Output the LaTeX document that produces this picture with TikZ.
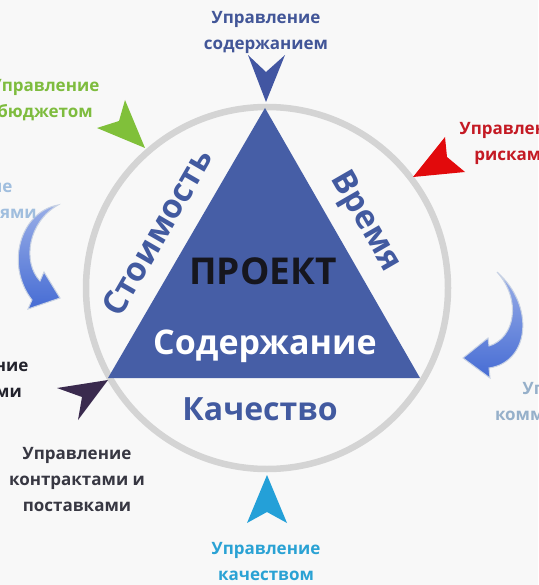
\documentclass[tikz,border=0pt]{standalone}
\usepackage{fontspec}
\setmainfont{Open Sans}

\definecolor{fondo}{RGB}{248,248,248}
\definecolor{anello}{RGB}{212,212,212}
\definecolor{triblu}{RGB}{70,94,166}
\definecolor{testoblu}{RGB}{66,90,160}
\definecolor{nerotesto}{RGB}{22,22,30}
\definecolor{cSod}{RGB}{66,86,152}
\definecolor{cBud}{RGB}{126,188,62}
\definecolor{cIzm}{RGB}{160,190,222}
\definecolor{cRes}{RGB}{35,35,45}
\definecolor{cKon}{RGB}{55,55,66}
\definecolor{cKach}{RGB}{42,162,212}
\definecolor{cRisk}{RGB}{196,26,36}
\definecolor{cKom}{RGB}{150,176,202}
\definecolor{dartViola}{RGB}{58,42,78}
\definecolor{dartCiano}{RGB}{36,160,216}
\definecolor{dartRosso}{RGB}{226,10,12}
\definecolor{dartVerde}{RGB}{128,192,58}
\definecolor{dartBlu}{RGB}{66,86,162}
\definecolor{frecciaBlu}{RGB}{70,108,212}
\definecolor{bordoFreccia}{RGB}{200,210,228}

\begin{document}
\begin{tikzpicture}[x=1pt, y=-1pt, font=\bfseries]

			\def\boxW{538}
			\def\boxH{585}

			% sfondo
			\useasboundingbox (0,0) rectangle (\boxW,\boxH);
			\fill[fondo] (0,0) rectangle (\boxW,\boxH);

			% anello grigio
			\draw[anello, line width=6.5pt] (267,288) circle[radius=181pt];

			% triangolo centrale
			\fill[triblu] (265,108) -- (108,378) -- (420,378) -- cycle;

			% --- TESTI NEL TRIANGOLO ---
			\tikzset{grande/.style={font=\bfseries\fontsize{33}{36}\selectfont}}

			\node[grande, nerotesto, font=\bfseries\fontsize{37}{40}\selectfont] (progetto) at (263,271) {ПРОЕКТ};
			\node[grande, white, font=\bfseries\fontsize{34}{36}\selectfont] (contenuto) at (265,346) {Содержание};
			\node[grande, testoblu, rotate=60] (costo) at (157,232) {Стоимость};
			\node[grande, testoblu, rotate=-60] (tempo) at (365,222) {Время};
			\node[grande, testoblu, font=\bfseries\fontsize{32}{36}\selectfont] (qualita) at (260,409) {Качество};

			% --- PUNTE ATTORNO ALL'ANELLO ---
			\fill[dartBlu] (248,55) -- (266,102) -- (285,55) -- (266,72) -- cycle;
			\fill[dartVerde] (97,128) -- (145,148) -- (125,100) -- (119,121) -- cycle;
			\fill[dartRosso] (445,137) -- (413,177) -- (465,172) -- (447,157) -- cycle;
			\fill[dartViola] (57,388) -- (108,380) -- (78,420) -- (82,397) -- cycle;
			\fill[dartCiano] (247,523) -- (267,475) -- (287,523) -- (267,512) -- cycle;

			% frecce curve
			\tikzset{curva/.style={top color=frecciaBlu!55!white, bottom color=frecciaBlu, draw=bordoFreccia, line width=1pt}}
			\path[curva]
				(58,205) .. controls (20,212) and (5,265) .. (32,300)
				-- (28,309) -- (60,298) -- (44,272) -- (40,281)
				.. controls (22,262) and (28,222) .. (58,205) -- cycle;
			\path[curva]
				(497,272) .. controls (522,300) and (515,338) .. (489,346)
				-- (488,338) -- (463,358) -- (490,378) -- (489,368)
				.. controls (530,362) and (535,305) .. (497,272) -- cycle;

			% --- ETICHETTE ESTERNE ---
			\tikzset{etichetta/.style={align=center, font=\bfseries\fontsize{17}{26}\selectfont}}

			\node[etichetta, cSod] (lblSod) at (266,32) {Управление\\содержанием};
			\node[etichetta, cBud] (lblBud) at (45,100) {Управление\\бюджетом};
			\node[etichetta, cIzm] (lblKonf) at (-42,201) {Управление\\конфигурациями};
			\node[etichetta, cRes] (lblRes) at (-26,380) {Управление\\ресурсами};
			\node[etichetta, cKon] (lblKon) at (77,480) {Управление\\контрактами и\\поставками};
			\node[etichetta, cKach] (lblKach) at (266,562) {Управление\\качеством};
			\node[etichetta, cRisk] (lblRisk) at (514,143) {Управление\\рисками};
			\node[etichetta, cKom] (lblKom) at (577,403) {Управление\\коммуникациями};

		\end{tikzpicture}
\end{document}
